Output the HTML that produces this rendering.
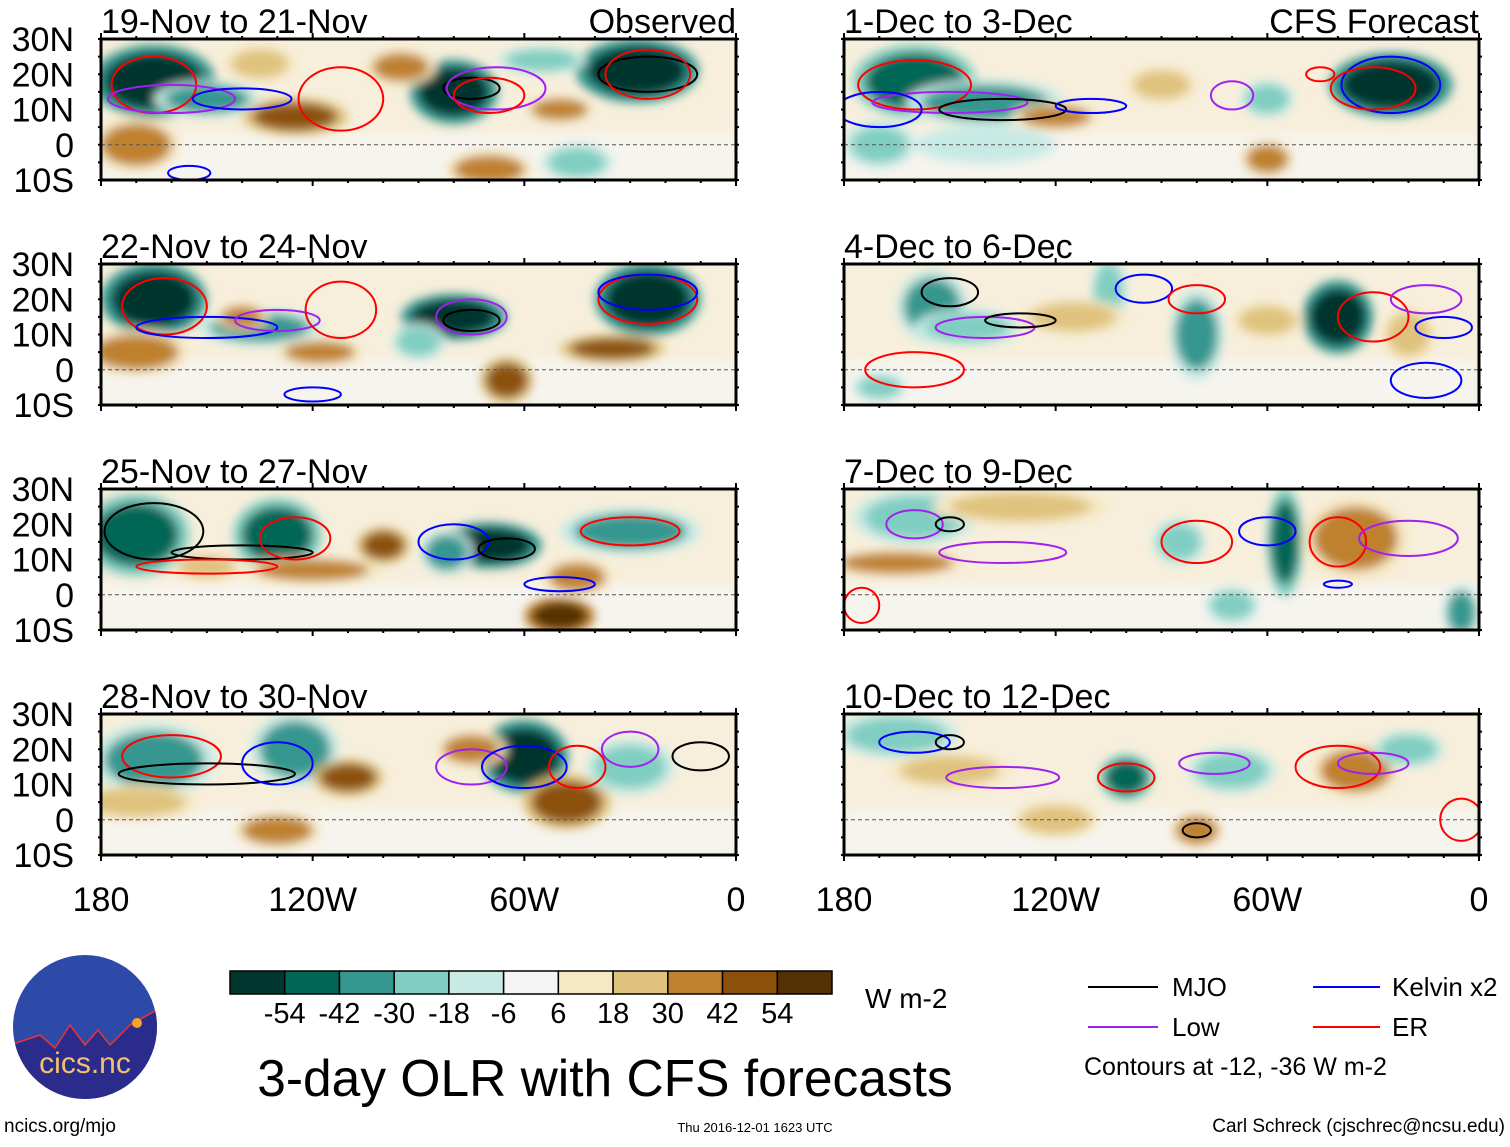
<!DOCTYPE html>
<html><head><meta charset="utf-8"><style>
body{margin:0;background:#fff;}
svg text{font-family:"Liberation Sans",sans-serif;}
</style></head><body>
<svg id="fig" width="1510" height="1142" viewBox="0 0 1510 1142" xmlns="http://www.w3.org/2000/svg">
<defs>
<filter id="soft" x="-20%" y="-50%" width="140%" height="200%"><feGaussianBlur stdDeviation="5"/></filter>
<clipPath id="logoclip"><circle cx="85" cy="1027" r="72"/></clipPath>
</defs>
<g id="panels"></g>
<g id="colorbar"></g>
<text x="865" y="1008" font-size="28">W m-2</text>
<text x="605" y="1096" font-size="51.5" text-anchor="middle">3-day OLR with CFS forecasts</text>
<g>
<line x1="1088" y1="987" x2="1158" y2="987" stroke="#000" stroke-width="2"/><text x="1172" y="996" font-size="26">MJO</text>
<line x1="1313" y1="987" x2="1380" y2="987" stroke="#0000ff" stroke-width="2"/><text x="1392" y="996" font-size="26">Kelvin x2</text>
<line x1="1088" y1="1027" x2="1158" y2="1027" stroke="#a020f0" stroke-width="2"/><text x="1172" y="1036" font-size="26">Low</text>
<line x1="1313" y1="1027" x2="1380" y2="1027" stroke="#ff0000" stroke-width="2"/><text x="1392" y="1036" font-size="26">ER</text>
<text x="1084" y="1075" font-size="25">Contours at -12, -36 W m-2</text>
</g>
<g>
<circle cx="85" cy="1027" r="72" fill="#2e4aa8"/>
<g clip-path="url(#logoclip)">
<path d="M10 1045 L40 1035 L55 1048 L70 1025 L85 1045 L98 1030 L110 1045 L130 1025 L160 1008 L160 1110 L10 1110 Z" fill="#2b2b8c" stroke="#e33" stroke-width="1.5"/>
</g>
<circle cx="137" cy="1023" r="5" fill="#f5a623"/>
<text x="85" y="1073" font-size="30" fill="#f5c26b" text-anchor="middle">cics.nc</text>
</g>
<text x="4" y="1132" font-size="19">ncics.org/mjo</text>
<text x="755" y="1132" font-size="13" text-anchor="middle">Thu 2016-12-01 1623 UTC</text>
<text x="1505" y="1132" font-size="19" text-anchor="end">Carl Schreck (cjschrec@ncsu.edu)</text>
</svg>
<script>
const NS="http://www.w3.org/2000/svg";
const levels=[-54,-42,-30,-18,-6,6,18,30,42,54];
const colors=["#00362e","#016656","#35978f","#80cdc1","#c7eae5","#f5f5f5","#f6e8c3","#dfc27d","#bf812d","#8c510a","#543005"];
const titles=["19-Nov to 21-Nov","22-Nov to 24-Nov","25-Nov to 27-Nov","28-Nov to 30-Nov","1-Dec to 3-Dec","4-Dec to 6-Dec","7-Dec to 9-Dec","10-Dec to 12-Dec"];
const latTicks=[30,20,10,0,-10];
const latLabels=["30N","20N","10N","0","10S"];
const lonTicks=[180,120,60,0];
const lonLabels=["180","120W","60W","0"];
// blobs: [lonW, lat, rxDeg, ryDeg, colorIndex]
const blobs=[
[[165,18,14,8,0],[150,13,12,4,2],[125,8,12,4,9],[135,23,8,4,7],[80,15,10,7,0],[95,22,8,4,8],[28,21,14,7,0],[50,10,8,3,8],[55,24,10,3,3],[170,0,10,6,8],[45,-5,8,4,3],[70,-7,10,4,8]],
[[165,20,12,8,0],[135,12,14,4,2],[118,5,10,3,8],[80,15,12,5,0],[90,8,6,4,3],[25,20,12,8,0],[35,6,12,3,9],[170,5,12,5,8],[65,-3,6,5,9],[140,15,6,3,8]],
[[170,17,12,9,1],[130,17,10,8,1],[100,14,6,4,9],[70,14,12,5,0],[82,12,6,5,2],[30,18,16,5,2],[120,7,16,3,8],[45,5,8,4,8],[50,-6,8,4,10],[150,8,8,3,7]],
[[165,17,14,8,2],[125,20,10,8,2],[110,12,8,4,9],[60,18,10,8,0],[48,5,10,6,9],[75,20,8,4,8],[30,15,10,6,3],[170,5,14,4,7],[130,-3,10,4,8]],
[[160,18,14,8,1],[140,12,18,5,2],[120,8,10,3,8],[25,17,14,7,0],[60,13,6,4,3],[90,17,8,4,7],[170,0,8,5,3],[60,-4,6,4,8],[140,0,16,4,4]],
[[155,18,8,8,2],[145,12,12,4,3],[105,22,4,8,3],[40,15,8,8,0],[80,10,6,10,2],[115,15,12,4,7],[170,-5,6,3,3],[60,14,8,4,7],[20,10,6,6,7]],
[[160,22,14,6,3],[55,15,4,12,1],[35,16,12,9,8],[165,9,16,3,8],[85,15,6,5,3],[130,25,20,4,7],[70,-3,6,4,3],[5,-5,4,6,2]],
[[165,24,14,5,3],[100,12,6,5,1],[70,14,10,5,3],[35,14,10,6,8],[150,14,14,4,7],[20,20,8,4,3],[80,-3,6,4,8],[120,0,10,4,7]]
];
// contours: [lonW, lat, rxDeg, ryDeg, typeIndex] 0 MJO,1 Kelvin,2 Low,3 ER
const ctypes=["#000000","#0000ff","#a020f0","#ff0000"];
const contours=[
[[165,17,12,8,3],[160,13,18,4,2],[140,13,14,3,1],[112,13,12,9,3],[75,16,8,3,0],[68,16,14,6,2],[70,14,10,5,3],[25,20,14,5,0],[25,20,12,7,3],[155,-8,6,2,1]],
[[162,18,12,8,3],[150,12,20,3,1],[130,14,12,3,2],[112,17,10,8,3],[75,15,10,5,2],[75,14,8,3,0],[25,20,14,7,3],[25,22,14,5,1],[120,-7,8,2,1]],
[[165,18,14,8,0],[140,12,20,2,0],[125,16,10,6,3],[80,15,10,5,1],[65,13,8,3,0],[30,18,14,4,3],[50,3,10,2,1],[150,8,20,2,3]],
[[160,18,14,6,3],[150,13,25,3,0],[130,16,10,6,1],[75,15,10,5,2],[60,15,12,6,1],[45,15,8,6,3],[30,20,8,5,2],[10,18,8,4,0]],
[[160,17,16,7,3],[150,12,22,3,2],[135,10,18,3,0],[110,11,10,2,1],[25,17,14,8,1],[30,16,12,6,3],[70,14,6,4,2],[45,20,4,2,3],[170,10,12,5,1]],
[[150,22,8,4,0],[140,12,14,3,2],[130,14,10,2,0],[95,23,8,4,1],[80,20,8,4,3],[30,15,10,7,3],[15,20,10,4,2],[10,12,8,3,1],[160,0,14,5,3],[15,-3,10,5,1]],
[[160,20,8,4,2],[150,20,4,2,0],[135,12,18,3,2],[80,15,10,6,3],[60,18,8,4,1],[40,15,8,7,3],[20,16,14,5,2],[40,3,4,1,1],[175,-3,5,5,3]],
[[160,22,10,3,1],[150,22,4,2,0],[135,12,16,3,2],[100,12,8,4,3],[75,16,10,3,2],[40,15,12,6,3],[30,16,10,3,2],[80,-3,4,2,0],[5,0,6,6,3]]
];
const panels=document.getElementById('panels');
const W=635,H=141,LX=[101,844],TY=[39,264,489,714];
function lonX(x0,lonW){return x0+(180-lonW)/180*W;}
function latY(y0,lat){return y0+(30-lat)/40*H;}
function mk(tag,attrs,parent){const e=document.createElementNS(NS,tag);for(const k in attrs)e.setAttribute(k,attrs[k]);parent.appendChild(e);return e;}
for(let p=0;p<8;p++){
  const col=p<4?0:1,row=p%4,x0=LX[col],y0=TY[row];
  const g=mk('g',{},panels);
  
  
  const cp=mk('clipPath',{id:'c'+p},g);mk('rect',{x:x0,y:y0,width:W,height:H},cp);
  const inner=mk('g',{'clip-path':'url(#c'+p+')'},g);
  mk('rect',{x:x0,y:y0,width:W,height:H,fill:'#f7efdc'},inner);
  mk('rect',{x:x0,y:latY(y0,3),width:W,height:latY(y0,-10)-latY(y0,3),fill:'#f6f4ee',filter:'url(#soft)'},inner);
  const bg=mk('g',{filter:'url(#soft)'},inner);
  for(const b of blobs[p]){
    const cx=lonX(x0,b[0]),cy=latY(y0,b[1]);
    const rx=b[2]/180*W,ry=b[3]/40*H;
    const e=mk('ellipse',{cx:cx,cy:cy,rx:rx*1.25,ry:ry*1.3,fill:colors[b[4]<5?Math.min(b[4]+2,4):Math.max(b[4]-2,6)]},bg);
    
    
    mk('ellipse',{cx:cx,cy:cy,rx:rx,ry:ry,fill:colors[b[4]]},bg);
  }
  mk('line',{x1:x0,y1:latY(y0,0),x2:x0+W,y2:latY(y0,0),stroke:'#555','stroke-dasharray':'4,3','stroke-width':1},inner);
  for(const c of contours[p]){
    const e=mk('ellipse',{cx:lonX(x0,c[0]),cy:latY(y0,c[1]),rx:c[2]/180*W,ry:c[3]/40*H,fill:'none',stroke:ctypes[c[4]],'stroke-width':2},inner);
    
    
  }
  mk('rect',{x:x0,y:y0,width:W,height:H,fill:'none',stroke:'#000','stroke-width':3},g);
  for(let l=180;l>=0;l-=10){const x=lonX(x0,l),maj=l%60==0;
    mk('line',{x1:x,y1:y0,x2:x,y2:y0-(maj?6:3),stroke:'#000','stroke-width':2},g);
    mk('line',{x1:x,y1:y0+H,x2:x,y2:y0+H+(maj?6:3),stroke:'#000','stroke-width':2},g);}
  for(let l=30;l>=-10;l-=5){const y=latY(y0,l);
    mk('line',{x1:x0,y1:y,x2:x0-3,y2:y,stroke:'#000','stroke-width':2},g);
    mk('line',{x1:x0+W,y1:y,x2:x0+W+3,y2:y,stroke:'#000','stroke-width':2},g);}
  const t=mk('text',{x:x0,y:y0-6,'font-size':34},g);t.textContent=titles[p];
  
  
  if(row==0){const s=mk('text',{x:x0+W,y:y0-6,'font-size':34,'text-anchor':'end'},g);s.textContent=col==0?'Observed':'CFS Forecast';
    
    }
  if(col==0){latTicks.forEach((v,i)=>{const tt=mk('text',{x:74,y:latY(y0,v)+12,'font-size':34,'text-anchor':'end'},g);tt.textContent=latLabels[i];
    
    });}
  if(row==3){lonTicks.forEach((v,i)=>{const tt=mk('text',{x:lonX(x0,v),y:911,'font-size':34,'text-anchor':'middle'},g);tt.textContent=lonLabels[i];
    
    });}
}
const cb=document.getElementById('colorbar');
const cbx=230,cbw=602,bw=cbw/colors.length;
colors.forEach((c,i)=>{const r=mk('rect',{x:cbx+i*bw,y:971,width:bw,height:23,fill:c,stroke:'#000','stroke-width':1.5},cb);
  
  });
levels.forEach((v,i)=>{const t=mk('text',{x:cbx+(i+1)*bw,y:1023,'font-size':29,'text-anchor':'middle'},cb);t.textContent=v;
  
  });
</script>
</body></html>
